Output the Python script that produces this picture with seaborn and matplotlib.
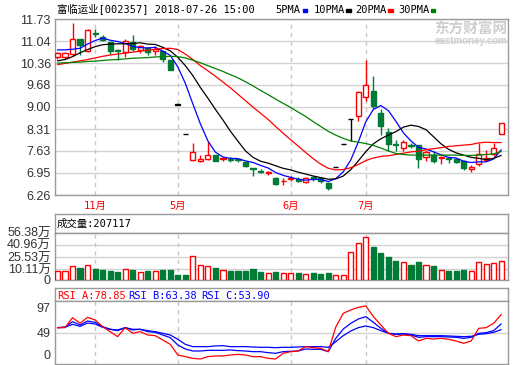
import numpy as np
import matplotlib
matplotlib.use("Agg")
import matplotlib.pyplot as plt
from matplotlib.patches import Rectangle
import seaborn as sns

# daily candles (60 trading days, Nov 2017 - 2018-07-26)
opens = [10.56, 10.54, 10.64, 11.10, 10.72, 11.28, 11.17, 11.00, 10.78, 10.69,
         11.00, 10.76, 10.83, 10.72, 10.72, 10.46, 9.07, 8.15, 7.34, 7.33,
         7.38, 7.50, 7.39, 7.38, 7.37, 7.29, 7.10, 7.00, 6.94, 6.78,
         6.69, 6.76, 6.77, 6.66, 6.81, 6.79, 6.62, 7.14, 7.83, 8.61,
         8.72, 9.32, 9.49, 8.82, 8.23, 7.83, 7.71, 7.80, 7.80, 7.43,
         7.51, 7.42, 7.40, 7.37, 7.33, 7.08, 7.22, 7.35, 7.54, 8.17]
highs = [10.71, 10.71, 11.61, 11.12, 11.42, 11.42, 11.23, 11.03, 10.80, 11.10,
         11.23, 10.92, 10.86, 10.88, 10.75, 10.46, 9.07, 8.15, 7.88, 7.49,
         7.90, 7.51, 7.45, 7.43, 7.42, 7.31, 7.11, 7.06, 7.00, 6.81,
         6.79, 6.86, 6.81, 6.81, 6.85, 6.83, 6.66, 7.14, 7.83, 8.61,
         9.48, 10.45, 9.95, 8.93, 8.35, 7.97, 7.97, 7.88, 7.82, 7.67,
         7.62, 7.47, 7.43, 7.41, 7.36, 7.18, 7.88, 7.67, 7.88, 8.51]
lows = [10.48, 10.48, 10.59, 10.61, 10.69, 11.17, 11.04, 10.64, 10.46, 10.56,
        10.72, 10.67, 10.61, 10.61, 10.38, 10.15, 9.07, 8.15, 7.31, 7.30,
        7.36, 7.31, 7.33, 7.29, 7.29, 7.13, 6.85, 6.93, 6.89, 6.58,
        6.58, 6.68, 6.66, 6.64, 6.71, 6.64, 6.43, 7.14, 7.83, 7.94,
        8.56, 9.17, 8.93, 8.13, 7.62, 7.62, 7.62, 7.72, 7.09, 7.33,
        7.25, 7.22, 7.26, 7.25, 7.03, 6.99, 7.15, 7.31, 7.47, 8.17]
closes = [10.66, 10.68, 11.10, 10.91, 11.38, 11.25, 11.08, 10.73, 10.72, 11.06,
          10.81, 10.88, 10.69, 10.80, 10.49, 10.15, 9.07, 8.15, 7.60, 7.37,
          7.50, 7.33, 7.42, 7.36, 7.34, 7.16, 7.08, 6.98, 6.96, 6.60,
          6.71, 6.78, 6.71, 6.79, 6.75, 6.68, 6.49, 7.14, 7.83, 8.61,
          9.46, 9.67, 9.04, 8.40, 7.83, 7.80, 7.90, 7.78, 7.38, 7.60,
          7.33, 7.44, 7.38, 7.29, 7.09, 7.14, 7.54, 7.41, 7.73, 8.51]

# volume in 万
volume = [8.1, 8.1, 13.9, 11.8, 16.3, 11.0, 9.7, 8.5, 6.9, 10.1,
          9.7, 6.9, 8.5, 8.1, 9.7, 9.7, 3.6, 3.3, 27.5, 16.3,
          13.9, 11.8, 9.0, 8.5, 8.5, 8.5, 10.6, 7.3, 5.2, 6.9,
          5.2, 6.0, 5.6, 4.3, 5.2, 4.5, 5.2, 3.3, 3.3, 31.6,
          42.8, 50.2, 37.9, 30.4, 25.4, 20.5, 19.2, 15.5, 19.2, 15.5,
          14.2, 9.3, 8.5, 8.5, 9.7, 7.8, 19.2, 17.2, 18.2, 20.7]

ma5 = [10.77, 10.77, 10.79, 10.82, 10.95, 11.06, 11.14, 11.07, 11.03, 10.97,
       10.88, 10.84, 10.83, 10.85, 10.73, 10.60, 10.24, 9.73, 9.09, 8.47,
       7.94, 7.59, 7.44, 7.40, 7.39, 7.32, 7.27, 7.18, 7.10, 6.96,
       6.87, 6.81, 6.75, 6.72, 6.75, 6.74, 6.68, 6.77, 6.98, 7.35,
       7.91, 8.54, 8.92, 9.04, 8.88, 8.55, 8.19, 7.94, 7.74, 7.69,
       7.60, 7.51, 7.43, 7.41, 7.31, 7.27, 7.29, 7.29, 7.38, 7.67]
ma10 = [10.43, 10.47, 10.56, 10.68, 10.78, 10.87, 10.93, 10.95, 10.96, 10.96,
        10.97, 10.99, 10.95, 10.94, 10.85, 10.74, 10.54, 10.28, 9.97, 9.60,
        9.27, 8.92, 8.59, 8.24, 7.93, 7.63, 7.43, 7.31, 7.25, 7.17,
        7.09, 7.04, 6.97, 6.91, 6.85, 6.80, 6.75, 6.76, 6.85, 7.05,
        7.32, 7.61, 7.85, 8.01, 8.12, 8.23, 8.37, 8.43, 8.39, 8.29,
        8.07, 7.85, 7.68, 7.57, 7.50, 7.43, 7.40, 7.36, 7.40, 7.49]
ma20 = [10.31, 10.35, 10.39, 10.43, 10.47, 10.52, 10.57, 10.61, 10.64, 10.67,
        10.70, 10.73, 10.76, 10.79, 10.81, 10.82, 10.78, 10.64, 10.47, 10.28,
        10.12, 9.95, 9.77, 9.59, 9.39, 9.19, 8.99, 8.80, 8.61, 8.39,
        8.18, 7.98, 7.78, 7.58, 7.39, 7.22, 7.09, 7.04, 7.05, 7.11,
        7.21, 7.33, 7.41, 7.46, 7.48, 7.52, 7.56, 7.60, 7.62, 7.67,
        7.70, 7.73, 7.77, 7.79, 7.81, 7.83, 7.88, 7.90, 7.89, 7.89]
ma30 = [10.36, 10.37, 10.38, 10.39, 10.41, 10.42, 10.44, 10.46, 10.47, 10.49,
        10.51, 10.52, 10.53, 10.55, 10.56, 10.57, 10.56, 10.52, 10.45, 10.37,
        10.28, 10.19, 10.10, 10.00, 9.90, 9.78, 9.65, 9.51, 9.38, 9.24,
        9.11, 8.98, 8.84, 8.70, 8.54, 8.39, 8.24, 8.12, 8.02, 7.94,
        7.90, 7.86, 7.80, 7.72, 7.63, 7.55, 7.52, 7.50, 7.50, 7.50,
        7.50, 7.50, 7.50, 7.50, 7.49, 7.49, 7.50, 7.52, 7.54, 7.61]

rsi_a = [57.1, 57.1, 73.6, 64.3, 74.2, 69.8, 58.8, 50.5, 42.3, 57.1,
         47.8, 50.5, 45.0, 43.9, 36.8, 29.6, 12.0, 9.3, 6.5, 5.4,
         9.3, 10.4, 10.4, 12.0, 13.1, 12.0, 9.3, 9.3, 6.5, 5.4,
         14.8, 17.5, 18.6, 25.8, 24.1, 23.0, 17.5, 58.0, 80.8, 86.3,
         90.7, 92.9, 75.3, 61.5, 47.8, 42.3, 45.0, 43.9, 35.1, 39.5,
         38.4, 39.5, 37.9, 35.1, 31.3, 35.1, 56.0, 57.1, 64.3, 78.85]
rsi_b = [57.1, 58.2, 67.0, 61.5, 68.1, 65.9, 58.8, 54.4, 52.2, 57.1,
         53.3, 54.4, 50.5, 49.4, 45.0, 40.6, 28.5, 21.9, 18.6, 18.6,
         19.7, 19.7, 19.7, 20.3, 19.2, 18.6, 17.5, 17.5, 15.9, 14.8,
         17.5, 18.1, 18.6, 21.9, 21.4, 21.4, 17.5, 39.5, 54.9, 64.3,
         71.4, 75.3, 65.9, 56.0, 47.8, 46.1, 46.7, 45.0, 41.2, 42.3,
         42.3, 42.3, 41.7, 41.2, 39.5, 41.2, 47.8, 48.9, 52.2, 63.38]
rsi_c = [57.1, 57.7, 62.6, 59.3, 64.8, 63.2, 57.7, 54.4, 53.3, 57.1,
         54.4, 54.4, 52.2, 50.5, 47.8, 45.0, 37.9, 29.6, 25.8, 25.8,
         25.8, 26.9, 27.4, 25.8, 25.8, 25.8, 25.2, 24.7, 24.7, 24.1,
         24.7, 24.7, 25.2, 25.8, 25.8, 25.8, 24.7, 34.0, 43.9, 51.6,
         57.1, 59.9, 57.1, 52.2, 47.8, 46.7, 47.2, 46.1, 43.9, 43.9,
         43.9, 43.9, 43.4, 42.8, 42.3, 42.8, 46.1, 47.2, 49.4, 53.90]

month_pos = [5, 16, 31, 41]
month_labels = ["11月", "5月", "6月", "7月"]
price_ticks = [6.26, 6.95, 7.63, 8.31, 9.00, 9.68, 10.36, 11.04, 11.73]
vol_ticks = [10.11, 25.53, 40.96, 56.38]
vol_labels = ["10.11万", "25.53万", "40.96万", "56.38万"]
rsi_ticks = [0, 49, 97]

RED = "#ff0000"
GREEN = "#007a37"
BLUE = "#0000ff"
FRAME = "#9a9a9a"
GRID = "#d2d2d2"
VMIN = -3.05  # volume axis floor: bars rise from the panel bottom (labelled 0)

sns.set_style("white")
plt.rcParams["font.family"] = ["Liberation Sans", "Noto Sans CJK SC"]
MONO = ["DejaVu Sans Mono", "Noto Sans CJK SC"]

W, H = 520, 365
fig = plt.figure(figsize=(W / 100, H / 100), dpi=100)


def panel(x0, y0, x1, y1):
    ax = fig.add_axes([x0 / W, 1 - y1 / H, (x1 - x0) / W, (y1 - y0) / H])
    for s in ax.spines.values():
        s.set_color(FRAME)
        s.set_linewidth(1)
    ax.set_xlim(-0.33, 59.9)
    ax.set_xticks([])
    ax.tick_params(axis="y", length=0, labelsize=9, pad=3, labelcolor="#333333")
    return ax


def month_lines(ax):
    for m in month_pos:
        ax.axvline(m, color="#c8c8c8", lw=1, ls=(0, (3, 3)), zorder=1)


x = np.arange(len(closes))
o = np.array(opens)
c = np.array(closes)
up = c > o
down = c < o
edge = np.where(up, RED, np.where(down, GREEN, "black"))
face = np.where(up, "white", np.where(down, GREEN, "black"))

# price panel
ax_p = panel(55, 19, 508, 195)
ax_p.set_ylim(6.26, 11.73)
ax_p.set_yticks(price_ticks, [f"{t:.2f}" for t in price_ticks])
ax_p.yaxis.grid(True, color=GRID, lw=1)
ax_p.set_axisbelow(True)
month_lines(ax_p)
ax_p.vlines(x, lows, highs, colors=edge, lw=1, zorder=3)
ax_p.bar(x, np.maximum(np.abs(c - o), 0.004), bottom=np.minimum(o, c), width=0.68,
         color=face, edgecolor=edge, linewidth=1, zorder=4)
for vals, col in [(ma5, BLUE), (ma10, "black"), (ma20, RED), (ma30, "#008000")]:
    sns.lineplot(x=x, y=vals, ax=ax_p, color=col, lw=0.9, zorder=5)
ax_p.set_ylabel("")
ax_p.set_xticks(month_pos, month_labels)
ax_p.tick_params(axis="x", length=0, pad=4, labelcolor=RED, labelsize=7.5)
for lab in ax_p.get_xticklabels():
    lab.set_fontfamily(MONO)

# volume panel
ax_vt = panel(55, 214, 508, 232.5)
ax_vt.set_yticks([])
ax_vt.text(0.004, 0.45, "成交量:207117", transform=ax_vt.transAxes, va="center",
           fontsize=7.5, family=MONO, color="black")

ax_v = panel(55, 232.5, 508, 280)
ax_v.set_ylim(VMIN, 56.38)
ax_v.set_yticks([VMIN] + vol_ticks, ["0"] + vol_labels)
ax_v.yaxis.grid(True, color=GRID, lw=1)
ax_v.set_axisbelow(True)
month_lines(ax_v)
prev = np.r_[c[0], c[:-1]]
vol_up = up | (~down & (c >= prev))
ax_v.bar(x, np.array(volume) - VMIN, bottom=VMIN, width=0.68,
         color=np.where(vol_up, "white", GREEN),
         edgecolor=np.where(vol_up, RED, GREEN), linewidth=1, zorder=3)

# RSI panel
ax_rt = panel(55, 288, 508, 301)
ax_rt.set_yticks([])
for xf, txt, col in [(0.004, "RSI_A:78.85", RED), (0.162, "RSI_B:63.38", BLUE),
                     (0.322, "RSI_C:53.90", BLUE)]:
    ax_rt.text(xf, 0.45, txt, transform=ax_rt.transAxes, va="center",
               fontsize=7.5, family=MONO, color=col)

ax_r = panel(55, 301, 508, 364)
ax_r.set_ylim(-2.85, 101.1)
ax_r.set_yticks(rsi_ticks, [str(t) for t in rsi_ticks])
ax_r.axhline(49, color=GRID, lw=1, zorder=1)
month_lines(ax_r)
for vals, col in [(rsi_c, BLUE), (rsi_b, BLUE), (rsi_a, RED)]:
    sns.lineplot(x=x, y=vals, ax=ax_r, color=col, lw=0.9, zorder=4)
ax_r.set_ylabel("")
rl = ax_r.get_yticklabels()
rl[0].set_va("bottom")
rl[2].set_va("top")

# header: title, MA legend, watermark
fig.text(57 / W, 1 - 9.5 / H, "富临运业[002357] 2018-07-26 15:00", va="center",
         fontsize=7.5, family=MONO, color="black")
for tx, sx, name, col in [(275.7, 302.7, "5PMA", BLUE), (313.3, 346, "10PMA", "black"),
                          (355, 388.3, "20PMA", RED), (398.3, 430.7, "30PMA", "#008000")]:
    fig.text(tx / W, 1 - 10 / H, name, va="center", fontsize=7.5, family=MONO, color="black")
    fig.patches.append(Rectangle((sx / W, 1 - 12 / H), 4.5 / W, 3 / H,
                                 transform=fig.transFigure, color=col))
fig.text(507 / W, 1 - 29 / H, "东方财富网", ha="right", va="center", fontsize=10.5,
         fontweight="bold", color="#cfcfcf", family=["Noto Sans CJK SC"])
fig.text(507 / W, 1 - 41 / H, "eastmoney.com", ha="right", va="center", fontsize=7,
         fontweight="bold", color="#cfcfcf")

fig.savefig("out.png", dpi=100)
